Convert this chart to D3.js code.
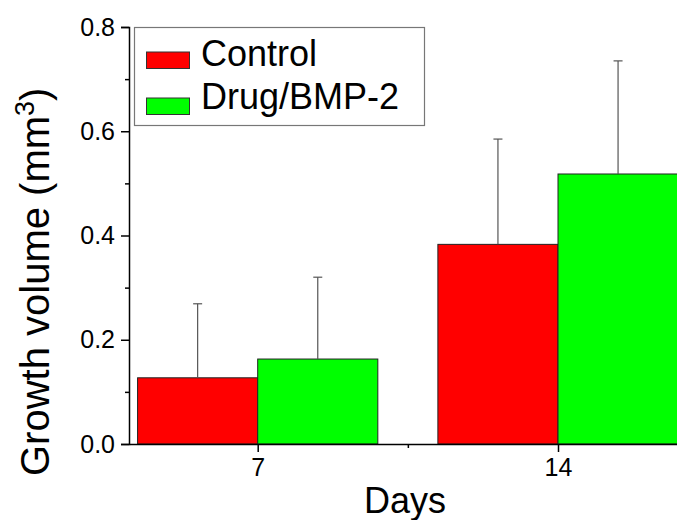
<!DOCTYPE html>
<html>
<head>
<meta charset="utf-8">
<script src="https://cdn.jsdelivr.net/npm/d3@7"></script>
<style>
  body { margin: 0; background: #fff; }
  text { font-family: "Liberation Sans", Arial, sans-serif; fill: #000; }
</style>
</head>
<body>
<svg id="chart" width="677" height="520"></svg>
<script>
// data
const days = [7, 14];
const groups = ['Control', 'Drug/BMP-2'];
const colors = ['#ff0000', '#00ff00'];
const controlMean = [0.127, 0.383];
const controlErr = [0.142, 0.202];
const drugMean = [0.163, 0.518];
const drugErr = [0.157, 0.217];
const yMajor = [0, 0.2, 0.4, 0.6, 0.8];
const yMinor = [0.1, 0.3, 0.5, 0.7];
const xMajor = [7, 14];
const xMinor = [10.5];

const svg = d3.select('#chart');
const margin = { left: 129, top: 27 };

const x = d3.scaleLinear().domain([4, 17]).range([129, 686.7]);
const y = d3.scaleLinear().domain([0, 0.8]).range([444, 27]);
const barW = 2.8; // in days

const series = [
  { name: groups[0], color: colors[0], mean: controlMean, err: controlErr, side: -1 },
  { name: groups[1], color: colors[1], mean: drugMean, err: drugErr, side: 0 }
];

// bars
series.forEach((s) => {
  const rows = days.map((d, i) => ({ day: d, v: s.mean[i], e: s.err[i] }));
  svg.append('g').selectAll('rect')
    .data(rows)
    .enter()
    .append('rect')
    .attr('x', (d) => x(d.day + s.side * barW))
    .attr('y', (d) => y(d.v))
    .attr('width', (d) => x(d.day + barW) - x(d.day))
    .attr('height', (d) => y(0) - y(d.v))
    .attr('fill', s.color)
    .attr('stroke', '#222')
    .attr('stroke-width', 1);

  // error bars (upper only)
  const eg = svg.append('g').attr('stroke', '#555').attr('stroke-width', 1.2);
  rows.forEach((d) => {
    const cx = x(d.day + s.side * barW + barW / 2);
    eg.append('line')
      .attr('x1', cx).attr('x2', cx)
      .attr('y1', y(d.v)).attr('y2', y(d.v + d.e));
    eg.append('line')
      .attr('x1', cx - 4.5).attr('x2', cx + 4.5)
      .attr('y1', y(d.v + d.e)).attr('y2', y(d.v + d.e));
  });
});

// y axis
svg.append('g')
  .attr('transform', `translate(${margin.left},0)`)
  .call(d3.axisLeft(y).tickValues(yMajor).tickFormat(d3.format('.1f')).tickSize(8).tickPadding(6));
svg.append('g')
  .attr('transform', `translate(${margin.left},0)`)
  .call(d3.axisLeft(y).tickValues(yMinor).tickFormat('').tickSize(4))
  .select('.domain').remove();

// x axis
svg.append('g')
  .attr('transform', `translate(0,${y(0)})`)
  .call(d3.axisBottom(x).tickValues(xMajor).tickFormat(d3.format('d')).tickSize(8).tickPadding(6).tickSizeOuter(0));
svg.append('g')
  .attr('transform', `translate(0,${y(0)})`)
  .call(d3.axisBottom(x).tickValues(xMinor).tickFormat('').tickSize(4))
  .select('.domain').remove();

svg.selectAll('.domain').attr('stroke', '#000').attr('stroke-width', 1.5);
svg.selectAll('.tick line').attr('stroke', '#000').attr('stroke-width', 1.5);
svg.selectAll('.tick text')
  .style('font-family', '"Liberation Sans", Arial, sans-serif')
  .style('font-size', '25px')
  .attr('fill', '#000');

// axis titles
svg.append('text')
  .attr('x', 405)
  .attr('y', 513)
  .attr('text-anchor', 'middle')
  .style('font-size', '36px')
  .text('Days');

const yt = svg.append('text')
  .attr('transform', 'translate(49,476) rotate(-90)')
  .attr('text-anchor', 'start')
  .style('font-size', '40px');
yt.append('tspan').text('Growth volume (mm');
yt.append('tspan').attr('dy', -15).style('font-size', '27px').text('3');
yt.append('tspan').attr('dy', 15).text(')');

// legend
const lg = svg.append('g');
lg.append('rect')
  .attr('x', 134.5).attr('y', 27.5)
  .attr('width', 290).attr('height', 98)
  .attr('fill', '#fff')
  .attr('stroke', '#777')
  .attr('stroke-width', 1.2);
series.forEach((s, i) => {
  lg.append('rect')
    .attr('x', 146.5).attr('y', 52 + i * 46)
    .attr('width', 43).attr('height', 16.5)
    .attr('fill', s.color)
    .attr('stroke', '#333')
    .attr('stroke-width', 1);
  lg.append('text')
    .attr('x', 201)
    .attr('y', 66 + i * 43)
    .style('font-size', '36px')
    .text(s.name);
});
</script>
</body>
</html>
